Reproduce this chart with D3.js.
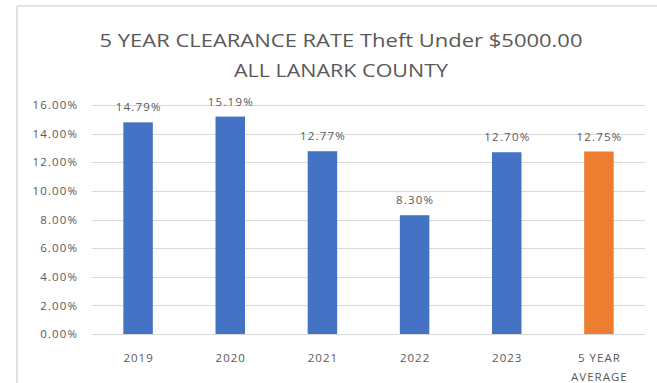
<!DOCTYPE html>
<html>
<head>
<meta charset="utf-8">
<script src="https://cdn.jsdelivr.net/npm/d3@7"></script>
<style>
  html, body { margin: 0; padding: 0; background: #fff; }
  svg { display: block; }
  text { font-family: "Open Sans", "Noto Sans", sans-serif; fill: #595959; }
</style>
</head>
<body>
<svg id="chart" width="657" height="383"></svg>
<script>
// Clearance rates, theft under $5000, Lanark County
const categories = ["2019", "2020", "2021", "2022", "2023", "5 YEAR AVERAGE"];
const rates = [14.79, 15.19, 12.77, 8.30, 12.70, 12.75];
const barColors = ["#4472C4", "#4472C4", "#4472C4", "#4472C4", "#4472C4", "#ED7D31"];
const yTicks = [0, 2, 4, 6, 8, 10, 12, 14, 16];
const titleLines = ["5 YEAR CLEARANCE RATE Theft Under $5000.00", "ALL LANARK COUNTY"];

const svg = d3.select("#chart");

// chart frame edges
svg.append("line").attr("x1", 17).attr("x2", 657).attr("y1", 6).attr("y2", 6)
  .attr("stroke", "#e3e3e3").attr("stroke-width", 2);
svg.append("line").attr("x1", 17).attr("x2", 17).attr("y1", 6).attr("y2", 383)
  .attr("stroke", "#d9d9d9").attr("stroke-width", 1.5);

// title
const titleSpecs = [
  { text: titleLines[0], y: 47, width: 483 },
  { text: titleLines[1], y: 77, width: 214 }
];
svg.selectAll("text.title").data(titleSpecs).join("text")
  .attr("class", "title")
  .attr("x", 341).attr("y", d => d.y)
  .attr("text-anchor", "middle")
  .attr("font-size", 19)
  .attr("textLength", d => d.width)
  .attr("lengthAdjust", "spacingAndGlyphs")
  .text(d => d.text);

const x = d3.scaleBand().domain(categories).range([92, 645])
  .paddingInner(0.68).paddingOuter(0.34);
const y = d3.scaleLinear().domain([0, 16]).range([334, 105]);

// gridlines
svg.append("g").selectAll("line").data(yTicks).join("line")
  .attr("x1", 92).attr("x2", 645)
  .attr("y1", d => Math.round(y(d)) + 0.5).attr("y2", d => Math.round(y(d)) + 0.5)
  .attr("stroke", "#d9d9d9").attr("stroke-width", 1);

// y axis labels
const yAxis = svg.append("g").attr("transform", "translate(85,0)")
  .call(d3.axisLeft(y).tickValues(yTicks).tickSize(0).tickPadding(7)
    .tickFormat(d => d3.format(".2f")(d) + "%"));
yAxis.select(".domain").remove();
yAxis.selectAll("text").attr("font-size", 11.5).attr("fill", "#595959")
  .attr("letter-spacing", 1.1)
  .style("font-family", "\"Open Sans\", sans-serif");

// bars
svg.append("g").selectAll("rect").data(categories).join("rect")
  .attr("x", d => x(d))
  .attr("width", x.bandwidth())
  .attr("y", (d, i) => y(rates[i]))
  .attr("height", (d, i) => y(0) - y(rates[i]))
  .attr("fill", (d, i) => barColors[i]);

// value labels
svg.append("g").selectAll("text").data(categories).join("text")
  .attr("x", d => x(d) + x.bandwidth() / 2 + 0.6)
  .attr("y", (d, i) => y(rates[i]) - 11)
  .attr("text-anchor", "middle")
  .attr("font-size", 11.5)
  .attr("letter-spacing", 1.2)
  .text((d, i) => d3.format(".2f")(rates[i]) + "%");

// category labels (wrapped onto two lines where needed)
const xLabels = svg.append("g").selectAll("text").data(categories).join("text")
  .attr("x", d => x(d) + x.bandwidth() / 2)
  .attr("y", 362)
  .attr("text-anchor", "middle")
  .attr("font-size", 11.5)
  .attr("letter-spacing", 1);
xLabels.each(function(d) {
  const t = d3.select(this);
  const parts = d === "5 YEAR AVERAGE" ? ["5 YEAR", "AVERAGE"] : [d];
  parts.forEach((p, k) => {
    t.append("tspan").attr("x", x(d) + x.bandwidth() / 2 + 0.5)
      .attr("dy", k === 0 ? 0 : 19).text(p);
  });
});
</script>
</body>
</html>
